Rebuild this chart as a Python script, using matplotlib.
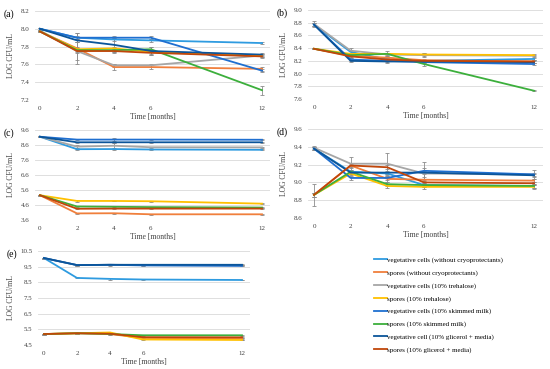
import matplotlib.pyplot as plt

plt.rcParams['font.family'] = ['Liberation Serif', 'DejaVu Serif']

months = [0, 2, 4, 6, 12]

labels = [
    "vegetative cells (without cryoprotectants)",
    "spores (without cryoprotectants)",
    "vegetative cells (10% trehalose)",
    "spores (10% trehalose)",
    "vegetative cells (10% skimmed milk)",
    "spores (10% skimmed milk)",
    "vegetative cell (10% glicerol + media)",
    "spores (10% glicerol + media)",
]
colors = ['#2E9BE0', '#F07F3C', '#A6A6A6', '#FFC000',
          '#1F6FD0', '#3CAF3C', '#0B559A', '#C0460A']

# panel (a)
a_vals = [
    [8.00, 7.90, 7.88, 7.87, 7.84],
    [7.97, 7.78, 7.57, 7.57, 7.55],
    [7.98, 7.75, 7.59, 7.59, 7.70],
    [7.97, 7.77, 7.78, 7.74, 7.70],
    [8.00, 7.90, 7.90, 7.90, 7.53],
    [7.97, 7.76, 7.76, 7.77, 7.31],
    [8.00, 7.87, 7.82, 7.75, 7.71],
    [7.97, 7.75, 7.75, 7.73, 7.69],
]
a_err = [
    [0.01, 0.02, 0.02, 0.02, 0.01],
    [0.01, 0.17, 0.03, 0.02, 0.02],
    [0.01, 0.10, 0.02, 0.02, 0.02],
    [0.01, 0.02, 0.02, 0.02, 0.02],
    [0.01, 0.05, 0.02, 0.02, 0.02],
    [0.01, 0.02, 0.02, 0.03, 0.05],
    [0.01, 0.02, 0.08, 0.04, 0.02],
    [0.01, 0.02, 0.02, 0.02, 0.02],
]

# panel (b)
b_vals = [
    [8.77, 8.34, 8.22, 8.20, 8.23],
    [8.39, 8.28, 8.25, 8.21, 8.19],
    [8.78, 8.36, 8.30, 8.29, 8.28],
    [8.39, 8.31, 8.31, 8.30, 8.29],
    [8.77, 8.22, 8.20, 8.18, 8.15],
    [8.39, 8.29, 8.31, 8.15, 7.73],
    [8.77, 8.20, 8.19, 8.19, 8.18],
    [8.39, 8.27, 8.22, 8.20, 8.19],
]
b_err = [
    [0.02, 0.02, 0.02, 0.02, 0.02],
    [0.01, 0.02, 0.02, 0.02, 0.02],
    [0.05, 0.05, 0.02, 0.03, 0.02],
    [0.01, 0.02, 0.02, 0.02, 0.02],
    [0.02, 0.02, 0.02, 0.02, 0.02],
    [0.01, 0.02, 0.05, 0.03, 0.01],
    [0.02, 0.02, 0.02, 0.02, 0.02],
    [0.01, 0.02, 0.02, 0.02, 0.02],
]

# panel (c)
c_vals = [
    [9.15, 8.32, 8.33, 8.30, 8.28],
    [5.25, 4.04, 4.05, 3.98, 3.98],
    [9.15, 8.49, 8.55, 8.45, 8.44],
    [5.25, 4.87, 4.87, 4.85, 4.69],
    [9.15, 8.96, 8.96, 8.96, 8.95],
    [5.25, 4.50, 4.48, 4.46, 4.43],
    [9.15, 8.78, 8.78, 8.78, 8.78],
    [5.25, 4.35, 4.36, 4.36, 4.36],
]
c_err = [
    [0.02, 0.03, 0.03, 0.03, 0.03],
    [0.02, 0.03, 0.03, 0.05, 0.03],
    [0.02, 0.08, 0.15, 0.03, 0.03],
    [0.02, 0.06, 0.03, 0.03, 0.03],
    [0.02, 0.03, 0.08, 0.03, 0.03],
    [0.02, 0.03, 0.03, 0.03, 0.03],
    [0.02, 0.03, 0.05, 0.03, 0.03],
    [0.02, 0.03, 0.03, 0.03, 0.03],
]

# panel (d)
d_vals = [
    [9.38, 9.12, 9.10, 8.97, 8.96],
    [8.86, 9.19, 9.04, 9.03, 9.02],
    [9.39, 9.21, 9.21, 9.10, 9.09],
    [8.86, 9.10, 8.96, 8.95, 8.95],
    [9.38, 9.05, 9.05, 9.13, 9.09],
    [8.86, 9.12, 8.98, 8.97, 8.96],
    [9.38, 9.11, 9.11, 9.11, 9.08],
    [8.86, 9.19, 9.17, 9.00, 8.99],
]
d_err = [
    [0.02, 0.02, 0.02, 0.02, 0.02],
    [0.12, 0.03, 0.03, 0.03, 0.02],
    [0.02, 0.08, 0.12, 0.06, 0.05],
    [0.02, 0.02, 0.02, 0.02, 0.02],
    [0.02, 0.02, 0.02, 0.10, 0.02],
    [0.02, 0.02, 0.02, 0.02, 0.02],
    [0.02, 0.02, 0.02, 0.02, 0.02],
    [0.02, 0.02, 0.02, 0.02, 0.02],
]

# panel (e)
e_vals = [
    [10.05, 8.78, 8.72, 8.68, 8.65],
    [5.20, 5.25, 5.20, 4.95, 4.92],
    [10.05, 9.60, 9.62, 9.60, 9.58],
    [5.20, 5.25, 5.30, 4.85, 4.82],
    [10.05, 9.60, 9.62, 9.58, 9.55],
    [5.20, 5.25, 5.20, 5.12, 5.12],
    [10.05, 9.60, 9.62, 9.62, 9.62],
    [5.20, 5.25, 5.22, 5.00, 4.99],
]
e_err = [
    [0.03, 0.03, 0.05, 0.03, 0.03],
    [0.03, 0.03, 0.03, 0.03, 0.03],
    [0.03, 0.03, 0.03, 0.03, 0.03],
    [0.03, 0.03, 0.03, 0.03, 0.03],
    [0.03, 0.03, 0.05, 0.03, 0.03],
    [0.03, 0.03, 0.03, 0.05, 0.03],
    [0.03, 0.03, 0.03, 0.03, 0.03],
    [0.03, 0.03, 0.03, 0.03, 0.03],
]

W, H = 550, 369
fig = plt.figure(figsize=(W / 100, H / 100), dpi=100)
txt = '#404040'


def panel(tag, vals, errs, box, x0px, x12px, ylim, yticks, fmt):
    left, top, right, bottom = box
    ax = fig.add_axes([left / W, 1 - bottom / H, (right - left) / W, (bottom - top) / H])
    ppm = (x12px - x0px) / 12
    ax.set_xlim(-(x0px - left) / ppm, 12 + (right - x12px) / ppm)
    ax.set_ylim(*ylim)
    for v, e, c in zip(vals, errs, colors):
        ax.errorbar(months, v, yerr=e, color=c, lw=1.3, ecolor='#8C8C8C',
                    elinewidth=0.6, capsize=1.2, capthick=0.6, zorder=3)
    ax.set_xticks(months)
    ax.set_yticks(yticks)
    ax.set_yticklabels([fmt.format(t) for t in yticks])
    ax.tick_params(length=0, labelsize=5, pad=4, labelcolor=txt)
    ax.grid(axis='y', color='#D9D9D9', lw=0.6)
    ax.set_axisbelow(True)
    for s in ax.spines.values():
        s.set_visible(False)
    ax.set_xlabel("Time [months]", fontsize=5.5, labelpad=2, color=txt)
    ax.set_ylabel("LOG CFU/mL", fontsize=5.5, labelpad=4, color=txt)
    fig.text((left - 31) / W, 1 - (top + 3) / H, tag, fontsize=7, va='center')
    return ax


panel("(a)", a_vals, a_err, (35, 11, 270, 100), 40, 262, (7.2, 8.2),
      [7.2, 7.4, 7.6, 7.8, 8.0, 8.2], "{:.1f}")
panel("(b)", b_vals, b_err, (308, 10, 543, 99), 314, 534, (7.6, 9.0),
      [7.6, 7.8, 8.0, 8.2, 8.4, 8.6, 8.8, 9.0], "{:.1f}")
panel("(c)", c_vals, c_err, (35, 130, 270, 220), 40, 262, (3.6, 9.6),
      [3.6, 4.6, 5.6, 6.6, 7.6, 8.6, 9.6], "{:.1f}")
panel("(d)", d_vals, d_err, (308, 129, 543, 218), 314, 534, (8.6, 9.6),
      [8.6, 8.8, 9.0, 9.2, 9.4, 9.6], "{:.1f}")
panel("(e)", e_vals, e_err, (38, 251, 250, 345), 44, 242, (4.5, 10.5),
      [4.5, 5.5, 6.5, 7.5, 8.5, 9.5, 10.5], "{:.1f}")

handles = [plt.Line2D([], [], color=c, lw=1.3) for c in colors]
fig.legend(handles, labels, loc='upper left', bbox_to_anchor=(374 / W, 1 - 257 / H),
           frameon=False, fontsize=5, handlelength=1.8, handletextpad=0.1,
           labelspacing=0.95, borderpad=0, borderaxespad=0)

fig.savefig("out.png", dpi=100)
